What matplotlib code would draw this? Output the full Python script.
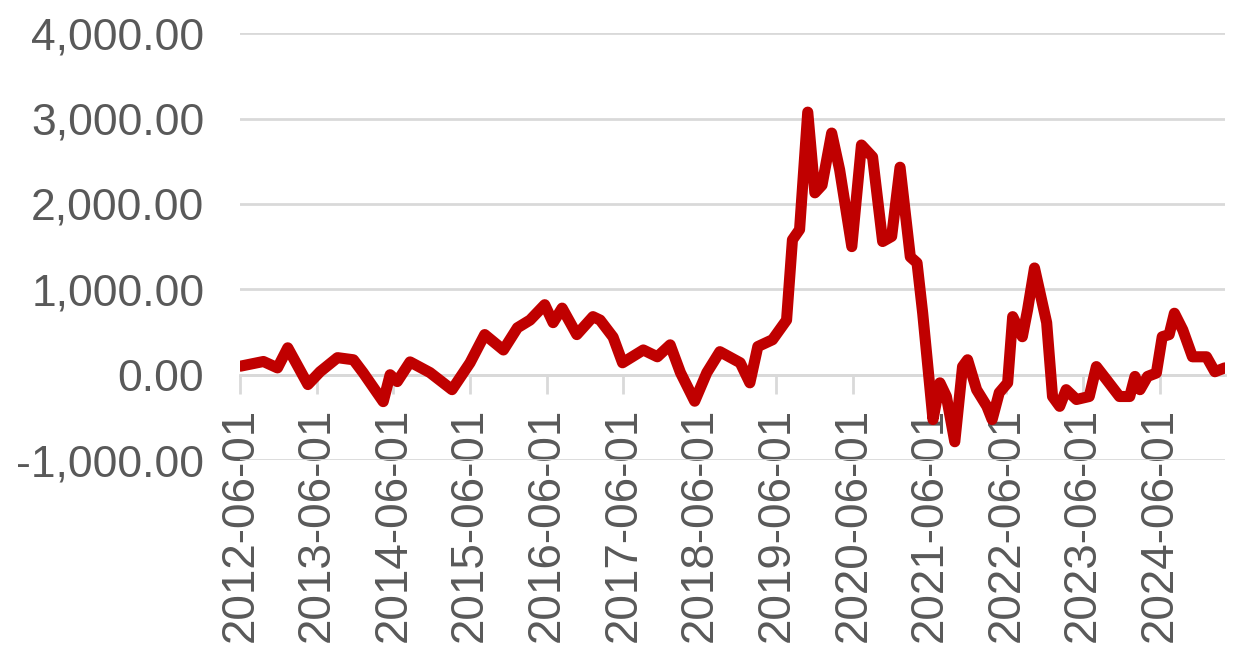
import matplotlib
matplotlib.use("Agg")
import matplotlib.pyplot as plt
import matplotlib.dates as mdates
import matplotlib.ticker as mticker
import numpy as np
import pandas as pd

# values
dates = [
    "2012-06-01", "2012-09-19", "2012-11-25", "2013-01-13", "2013-04-19", "2013-06-16",
    "2013-09-07", "2013-11-22", "2014-01-07", "2014-04-13", "2014-05-16", "2014-06-19",
    "2014-08-19", "2014-11-22", "2015-03-07", "2015-06-01", "2015-08-10", "2015-11-07",
    "2016-01-13", "2016-03-13", "2016-05-22", "2016-07-01", "2016-08-13", "2016-10-22",
    "2017-01-07", "2017-02-10", "2017-04-13", "2017-05-28", "2017-09-04", "2017-11-10",
    "2018-01-10", "2018-02-28", "2018-05-07", "2018-07-04", "2018-09-04", "2018-12-10",
    "2019-01-25", "2019-03-04", "2019-05-13", "2019-07-19", "2019-08-16", "2019-09-19",
    "2019-10-28", "2019-12-01", "2020-01-04", "2020-02-19", "2020-03-28", "2020-05-25",
    "2020-07-10", "2020-09-01", "2020-10-19", "2020-12-01", "2021-01-10", "2021-02-28",
    "2021-04-01", "2021-04-28", "2021-06-16", "2021-07-19", "2021-08-19", "2021-09-28",
    "2021-11-04", "2021-11-28", "2022-01-10", "2022-02-28", "2022-03-25", "2022-04-28",
    "2022-06-07", "2022-07-01", "2022-08-16", "2022-09-10", "2022-10-13", "2022-12-10",
    "2023-01-07", "2023-02-10", "2023-03-13", "2023-05-01", "2023-07-01", "2023-08-04",
    "2023-09-22", "2023-11-22", "2024-01-10", "2024-02-04", "2024-02-28", "2024-04-04",
    "2024-05-16", "2024-06-13", "2024-07-16", "2024-08-10", "2024-09-19", "2024-11-04",
    "2025-01-10", "2025-02-19", "2025-04-07",
]
values = [
    100, 155, 80, 315, -115, 35,
    200, 175, 25, -315, 0, -80,
    150, 25, -175, 140, 470, 290,
    550, 640, 820, 610, 780, 470,
    680, 640, 440, 140, 290, 210,
    350, 25, -310, 25, 270, 140,
    -95, 330, 410, 640, 1580, 1700,
    3075, 2130, 2220, 2830, 2400, 1500,
    2690, 2550, 1560, 1620, 2430, 1380,
    1310, 720, -525, -95, -255, -785,
    95, 175, -175, -370, -525, -210,
    -95, 680, 445, 760, 1250, 610,
    -255, -370, -175, -290, -255, 95,
    -60, -255, -255, -20, -175, -20,
    20, 445, 470, 720, 525, 210,
    210, 35, 80,
]
tick_dates = [f"{y}-06-01" for y in range(2012, 2025)]

plt.rcParams["axes.unicode_minus"] = False
plt.rcParams["font.family"] = ["Liberation Sans", "DejaVu Sans"]

x = pd.to_datetime(dates)
grey = "#595959"

fig = plt.figure(figsize=(12.39, 6.63), dpi=100)
ax = fig.add_axes([0.194, 0.306, 0.795, 0.644])

ax.plot(x, values, color="#C00000", lw=8, solid_joinstyle="round", solid_capstyle="round", zorder=3)

ax.set_ylim(-1000, 4000)
ax.set_xlim(pd.Timestamp("2012-06-01"), pd.Timestamp("2025-04-10"))
ax.yaxis.set_major_locator(mticker.MultipleLocator(1000))
ax.yaxis.set_major_formatter(mticker.StrMethodFormatter("{x:,.2f}"))
ax.grid(axis="y", color="#d9d9d9", lw=2)
ax.set_axisbelow(True)

for s in ["top", "right", "left"]:
    ax.spines[s].set_visible(False)
ax.spines["bottom"].set_position(("data", 0))
ax.spines["bottom"].set_color("#d9d9d9")
ax.spines["bottom"].set_linewidth(2)

ax.set_xticks(pd.to_datetime(tick_dates))
ax.xaxis.set_major_formatter(mdates.DateFormatter("%Y-%m-%d"))
ax.tick_params(axis="x", length=14, width=2, color="#d9d9d9", direction="out",
               labelsize=33, labelcolor=grey, labelrotation=90, pad=10)
ax.tick_params(axis="y", length=0, labelsize=32, labelcolor=grey, pad=26)

fig.savefig("out.png", dpi=100)
